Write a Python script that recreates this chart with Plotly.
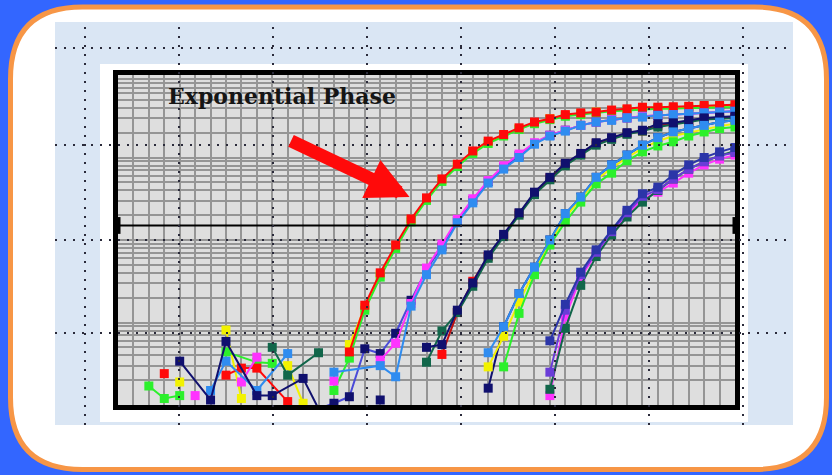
import plotly.graph_objects as go

# ---------------- data (fluorescence, log scale; cycles) ----------------
threshold = 1500
title_text = "Exponential Phase"

# Group 1 (earliest)
yellow_a_x = [4, 5, 7, 8, 9, 11, 12, 13] + list(range(15, 41))
yellow_a_y = [19, None, 81, 12, None, 30, 10.5, None, 54, 151, 380, 830, 1740, 3160, 5370, 8130, 11700, 15500,
              18600, 22400, 26300, 29500, 32400, 33900, 35500, 37200, 38000, 39800, 39800, 39800, 40700, 41700,
              41700, 42700]
green_a_x = [2, 3, 4, 5, 7, 9, 10, 12, 14] + list(range(15, 41))
green_a_y = [17, 12, 13, None, 44, 33, 32, None, 15, 37, 141, 355, 790, 1660, 3020, 5130, 7760, 11200, 14800,
             18200, 21900, 25700, 28800, 31600, 33100, 34700, 36300, 37200, 38000, 38900, 38900, 39800, 39800,
             40700, 40700]
red_a_x = [3, 5, 7, 8, 9, 11, 13] + list(range(15, 41))
red_a_y = [24, None, 23, 28, 28, 11, None, 44, 162, 400, 870, 1800, 3240, 5500, 8300, 12000, 15800, 19000, 22900,
           26900, 29500, 33100, 34700, 35500, 37600, 38900, 40700, 40700, 41200, 41700, 42700, 42700, 43600]

# Group 2
blue_b_x = list(range(13, 41))
blue_b_y = [9, 10.5, 12.6, 48, 42, 74, 186, 437, 830, 1700, 3020, 5130, 7590, 10500, 14800, 18600, 21400,
            24500, 26900, 28800, 30200, 31600, 32400, 33100, 33900, 34700, 35500, 36300]
magenta_b_x = [5, 6, 8, 9, 11, 14, 15, 17] + list(range(18, 41))
magenta_b_y = [13, None, 19, 38, None, 19.5, None, 35, 56, 170, 457, 890, 1780, 3160, 5250, 7940, 11000, 15100,
               18600, 21400, 24500, 26900, 28800, 30200, 31600, 32400, 33100, 33900, 34700, 35500, 36300]
lightblue_b_x = [6, 7, 9, 11, 12, 14, 17] + list(range(18, 41))
lightblue_b_y = [15, 34, 15, 42, None, 25, 30, 22, 158, 380, 760, 1620, 2820, 4900, 7240, 10000, 14500, 18200,
                 20900, 24500, 26900, 28200, 30200, 30900, 32400, 33100, 33900, 34700, 35500, 36300]

# Group 3
red_c_x = list(range(21, 41))
red_c_y = [41, 132, 316, 630, 1120, 2090, 3630, 5620, 8320, 11000, 14800, 17000, 19500, 21000, 24500, 25700,
           27500, 29500, 30200, 30900]
darkgreen_c_x = [10, 11, 13, 15] + list(range(20, 41))
darkgreen_c_y = [50, 23, 43, None, 33, 79, 132, 275, 600, 1100, 2000, 3550, 5370, 7940, 10700, 14100, 16600,
                 19100, 20900, 23400, 25100, 26900, 28800, 29500, 30200]
navy_c_x = [4, 6, 7, 9, 10, 12, 13, 15, 17, 18] + list(range(20, 41))
navy_c_y = [34, 11.5, 59, 13, 13, 21, 9, None, 11.5, None, 50, 54, 141, 302, 660, 1170, 2140, 3800, 5750, 8510,
            11200, 15100, 17400, 20000, 21400, 25700, 26300, 28200, 30200, 30900, 31600]

# Group 4
navy_d_x = list(range(24, 41))
navy_d_y = [16, 89, 224, 468, 1000, 2090, 3310, 5750, 8130, 10700, 14100, 17400, 20400, 22400, 24500, 26900, 28200]
yellow_d_x = list(range(24, 41))
yellow_d_y = [29, 68, 178, 417, 930, 1900, 3160, 5370, 7410, 10000, 12900, 15800, 18200, 20000, 21900, 24000, 25700]
green_d_x = list(range(25, 41))
green_d_y = [29, 129, 380, 870, 1660, 2880, 4790, 6460, 9120, 11700, 13800, 15500, 18200, 20400, 22400, 23400]
lightblue_d_x = list(range(24, 41))
lightblue_d_y = [43, 89, 224, 468, 1000, 2090, 3310, 5750, 8130, 10700, 14100, 17400, 20400, 22400, 24500, 26900, 28200]

# Group 5 (latest)
magenta_e_x = list(range(28, 41))
magenta_e_y = [13, 117, 355, 680, 1170, 2000, 3160, 3800, 4900, 6460, 8130, 9550, 10700]
darkgreen_e_x = list(range(28, 41))
darkgreen_e_y = [15.5, 85, 282, 630, 1150, 1900, 2880, 3980, 5500, 7240, 8910, 10500, 12000]
purple_e_x = list(range(28, 41))
purple_e_y = [25, 141, 380, 710, 1260, 2140, 3390, 4070, 5500, 7240, 8910, 10500, 11500]
blue_e_x = list(range(28, 41))
blue_e_y = [60, 166, 407, 760, 1320, 2290, 3630, 4370, 6170, 8130, 10000, 11700, 13200]

RED, GREEN, YELLOW = "#ff0a0a", "#2bf02b", "#f2f200"
MAGENTA, LIGHTBLUE, NAVY = "#ff33ff", "#2f8cf0", "#10106e"
DARKGREEN, BLUE, PURPLE, BLUEVIOLET = "#11664a", "#2b35a8", "#6a3cd8", "#4a4ad8"

series = [
    (yellow_a_x, yellow_a_y, YELLOW, YELLOW),
    (green_a_x, green_a_y, GREEN, GREEN),
    (red_a_x, red_a_y, RED, RED),
    (blue_b_x, blue_b_y, BLUEVIOLET, NAVY),
    (magenta_b_x, magenta_b_y, MAGENTA, MAGENTA),
    (lightblue_b_x, lightblue_b_y, LIGHTBLUE, LIGHTBLUE),
    (red_c_x, red_c_y, "#c01010", RED),
    (darkgreen_c_x, darkgreen_c_y, DARKGREEN, DARKGREEN),
    (navy_c_x, navy_c_y, NAVY, NAVY),
    (navy_d_x, navy_d_y, NAVY, NAVY),
    (yellow_d_x, yellow_d_y, YELLOW, YELLOW),
    (green_d_x, green_d_y, GREEN, GREEN),
    (lightblue_d_x, lightblue_d_y, LIGHTBLUE, LIGHTBLUE),
    (magenta_e_x, magenta_e_y, MAGENTA, MAGENTA),
    (darkgreen_e_x, darkgreen_e_y, DARKGREEN, DARKGREEN),
    (purple_e_x, purple_e_y, PURPLE, PURPLE),
    (blue_e_x, blue_e_y, BLUE, BLUE),
]

fig = go.Figure()
for xs, ys, lc, mc in series:
    fig.add_trace(go.Scatter(x=xs, y=ys, mode="lines+markers", connectgaps=False,
                             line=dict(color=lc, width=2),
                             marker=dict(symbol="square", size=9, color=mc),
                             showlegend=False, hoverinfo="skip"))

# threshold line with end blocks
fig.add_trace(go.Scatter(x=[0, 40], y=[threshold, threshold], mode="lines+markers",
                         line=dict(color="black", width=2),
                         marker=dict(symbol="line-ns", size=12, line=dict(width=5, color="black")),
                         cliponaxis=False, showlegend=False, hoverinfo="skip"))

# ---------------- layout decoration ----------------
W, H = 832, 475
L_, R_, T_, B_ = 118, 735, 75, 405


def px(x):
    return (x - L_) / (R_ - L_)


def py(y):
    return (B_ - y) / (B_ - T_)


def rounded_path(x0, y0, x1, y1, r):
    rx = r / (R_ - L_)
    ry = r / (B_ - T_)
    X0, X1, Y0, Y1 = px(x0), px(x1), py(y1), py(y0)  # Y0 bottom, Y1 top
    return (f"M {X0 + rx},{Y1} L {X1 - rx},{Y1} Q {X1},{Y1} {X1},{Y1 - ry} "
            f"L {X1},{Y0 + ry} Q {X1},{Y0} {X1 - rx},{Y0} L {X0 + rx},{Y0} "
            f"Q {X0},{Y0} {X0},{Y0 + ry} L {X0},{Y1 - ry} Q {X0},{Y1} {X0 + rx},{Y1} Z")


shapes = [
    dict(type="path", xref="paper", yref="paper", path=rounded_path(10.5, 7, 826.5, 469.5, 72),
         fillcolor="white", line=dict(color="#f79646", width=5), layer="below"),
    dict(type="rect", xref="paper", yref="paper", x0=px(55), x1=px(793), y0=py(425), y1=py(22),
         fillcolor="#dae6f4", line=dict(width=0), layer="below"),
    dict(type="rect", xref="paper", yref="paper", x0=px(100), x1=px(748), y0=py(422), y1=py(64),
         fillcolor="white", line=dict(width=0), layer="below"),
    dict(type="rect", xref="paper", yref="paper", x0=0, x1=1, y0=0, y1=1,
         fillcolor="#dedede", line=dict(width=0), layer="below"),
]
for vx in [85, 179, 273, 367, 461, 555, 649, 743]:
    shapes.append(dict(type="line", xref="paper", yref="paper", x0=px(vx), x1=px(vx), y0=py(425), y1=py(22),
                       line=dict(color="#2a2a3a", width=2, dash="2px,7px"), layer="above"))
for hy in [48, 145, 240, 333]:
    shapes.append(dict(type="line", xref="paper", yref="paper", x0=px(55), x1=px(793), y0=py(hy), y1=py(hy),
                       line=dict(color="#2a2a3a", width=2, dash="2px,7px"), layer="above"))

annotations = [
    dict(text=title_text, xref="paper", yref="paper", x=px(282), y=py(96), xanchor="center", yanchor="middle",
         showarrow=False, font=dict(family="DejaVu Serif", size=22, color="#151515", weight="bold")),
    dict(text="", x=18.9, y=3.52, xref="x", yref="y", ax=-120, ay=-57, showarrow=True,
         arrowcolor="#ff0a0a", arrowwidth=13, arrowhead=2, arrowsize=0.65),
]

fig.update_layout(
    width=W, height=H,
    margin=dict(l=L_, r=W - R_, t=T_, b=H - B_, pad=0),
    paper_bgcolor="#3366ff",
    plot_bgcolor="rgba(0,0,0,0)",
    shapes=shapes,
    annotations=annotations,
    xaxis=dict(range=[0, 40], dtick=1, showticklabels=False, ticks="", showgrid=True,
               gridcolor="#959595", gridwidth=2, zeroline=False,
               showline=True, linecolor="black", linewidth=5, mirror=True),
    yaxis=dict(type="log", range=[1, 5], dtick="D1", showticklabels=False, ticks="", showgrid=True,
               gridcolor="#959595", gridwidth=2, zeroline=False,
               showline=True, linecolor="black", linewidth=5, mirror=True),
)

fig.write_html("out.html")
